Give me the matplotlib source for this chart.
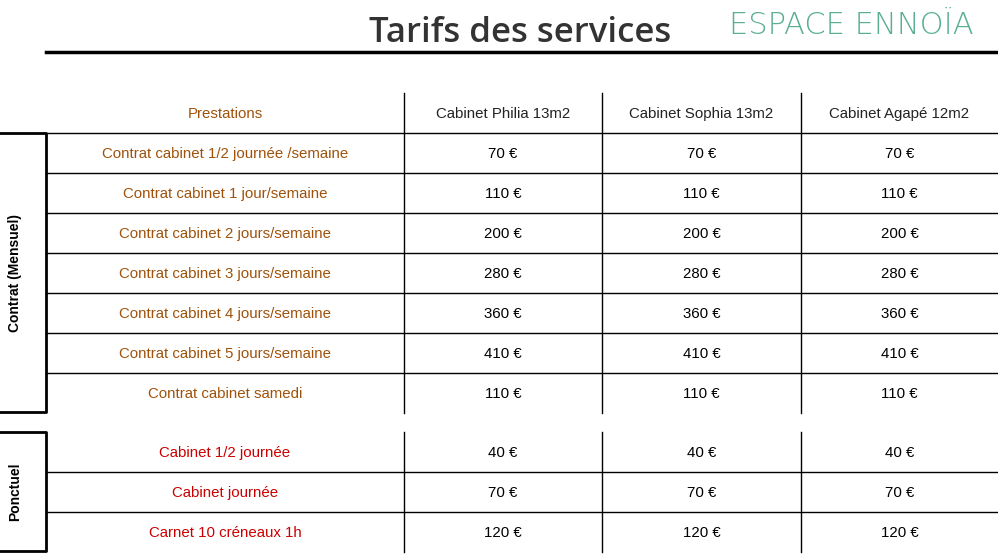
import matplotlib.pyplot as plt

# données du tableau
colonnes = ["Cabinet Philia 13m2", "Cabinet Sophia 13m2", "Cabinet Agapé 12m2"]
contrats = ["Contrat cabinet 1/2 journée /semaine", "Contrat cabinet 1 jour/semaine",
            "Contrat cabinet 2 jours/semaine", "Contrat cabinet 3 jours/semaine",
            "Contrat cabinet 4 jours/semaine", "Contrat cabinet 5 jours/semaine",
            "Contrat cabinet samedi"]
prix_contrats = [70, 110, 200, 280, 360, 410, 110]
ponctuels = ["Cabinet 1/2 journée", "Cabinet journée", "Carnet 10 créneaux 1h"]
prix_ponctuels = [40, 70, 120]

plt.rcParams["font.family"] = "Liberation Sans"
fig = plt.figure(figsize=(9.98, 5.59), dpi=100)
ax = fig.add_axes([0, 0, 1, 1])
ax.set_xlim(0, 998)
ax.set_ylim(559, 0)
ax.axis("off")

# titre + logo
ax.text(520, 33, "Tarifs des services", fontsize=25, color="#333333",
        ha="center", va="center", family="Open Sans", fontweight="medium")
ax.text(851, 25, "ESPACE ENNOÏA", fontsize=22, color="#5aae94",
        ha="center", va="center", family="DejaVu Sans", fontweight="light")
ax.plot([46, 998], [52, 52], color="black", lw=2.5)

xs = [46, 404, 602, 801, 998]
centres = [(xs[i] + xs[i + 1]) / 2 for i in range(4)]
h = 40
fs = 10.8

# en-tête
ax.text(centres[0], 114, "Prestations", fontsize=fs, color="#a0520a", ha="center", va="center")
for c, nom in zip(centres[1:], colonnes):
    ax.text(c, 114, nom, fontsize=fs, color="#222222", ha="center", va="center")


def section(y0, noms, prix, couleur, titre, top_line):
    n = len(noms)
    y1 = y0 + n * h
    for x in xs[1:4]:
        ax.plot([x, x], [y0 - (h if top_line else 0), y1], color="black", lw=1)
    lignes = range(n) if top_line else range(1, n)
    for i in lignes:
        ax.plot([46, 998], [y0 + i * h, y0 + i * h], color="black", lw=1)
    for i, (nom, p) in enumerate(zip(noms, prix)):
        yc = y0 + i * h + h / 2 + 1
        ax.text(centres[0], yc, nom, fontsize=fs, color=couleur, ha="center", va="center")
        for c in centres[1:]:
            ax.text(c, yc, f"{p} €", fontsize=fs, color="black", ha="center", va="center")
    # boîte latérale
    ax.plot([0, 46, 46, 0], [y0, y0, y1 - 1, y1 - 1], color="black", lw=2)
    ax.text(15, (y0 + y1) / 2, titre, fontsize=10, fontweight="bold", rotation=90,
            ha="center", va="center")


section(133, contrats, prix_contrats, "#a0520a", "Contrat (Mensuel)", True)
section(432, ponctuels, prix_ponctuels, "#cc0000", "Ponctuel", False)

fig.savefig("out.png", dpi=100)
